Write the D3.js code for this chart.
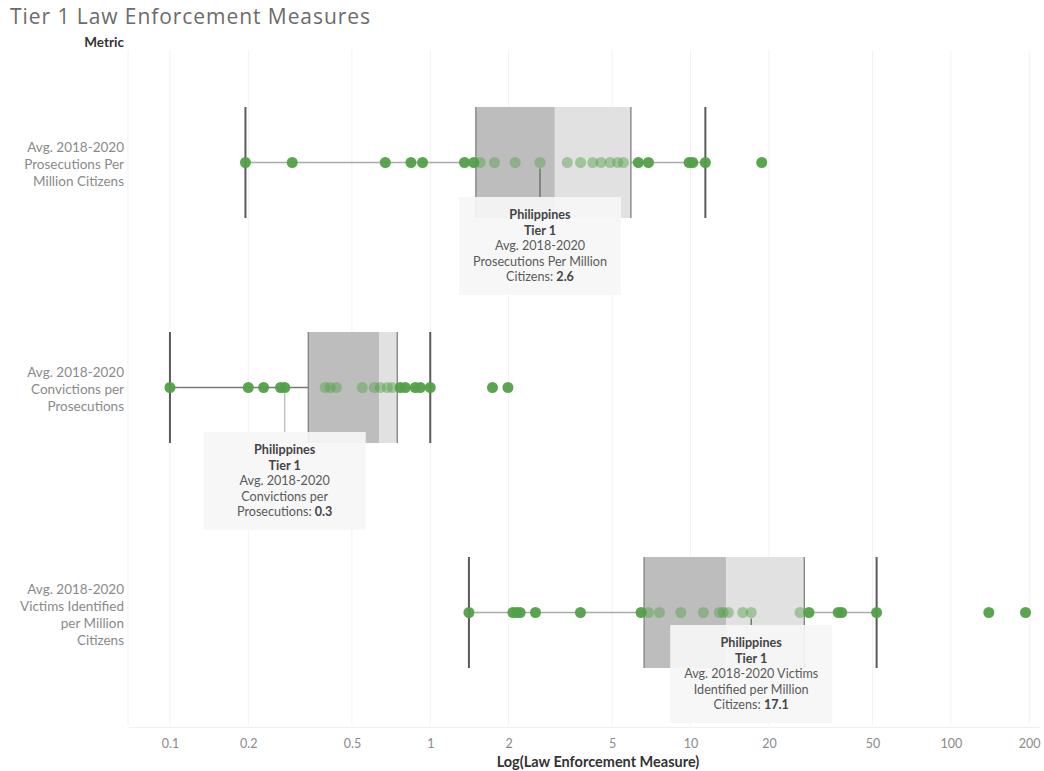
<!DOCTYPE html>
<html>
<head>
<meta charset="utf-8">
<script src="https://cdn.jsdelivr.net/npm/d3@7"></script>
<style>
  html, body { margin: 0; padding: 0; background: #fff; }
  svg { display: block; font-family: Lato, "Open Sans", sans-serif; }
</style>
</head>
<body>
<svg id="chart" width="1044" height="771"></svg>
<script>
// Metrics shown as rows (label lines per row)
const metrics = ["prosecutions", "convictions", "victims"];
const metricLabels = [
  ["Avg. 2018-2020", "Prosecutions Per", "Million Citizens"],
  ["Avg. 2018-2020", "Convictions per", "Prosecutions"],
  ["Avg. 2018-2020", "Victims Identified", "per Million", "Citizens"]
];

// Country values per metric (Tier 1 countries)
const prosecutionsValues = [0.195, 0.295, 0.672, 0.843, 0.934, 1.354, 1.47, 1.555, 1.765, 2.12, 2.64,
  3.36, 3.78, 4.21, 4.53, 4.91, 5.25, 5.52, 6.30, 6.89, 9.87, 10.2, 11.4, 18.77];
const convictionsValues = [0.1, 0.2, 0.229, 0.266, 0.276, 0.395, 0.413, 0.436, 0.548, 0.61, 0.643,
  0.684, 0.715, 0.767, 0.802, 0.876, 0.916, 1.0, 1.734, 1.988];
const victimsValues = [1.408, 2.077, 2.152, 2.215, 2.537, 3.776, 6.456, 6.887, 7.592, 9.17, 11.2,
  12.9, 13.36, 13.97, 15.87, 17.1, 26.33, 28.5, 36.93, 38.06, 51.85, 139.9, 193.6];

// Box plot statistics per metric
const whiskerLow  = [0.195, 0.1, 1.408];
const quartile1   = [1.497, 0.34, 6.63];
const medians     = [3.01, 0.637, 13.7];
const quartile3   = [5.9, 0.747, 27.35];
const whiskerHigh = [11.4, 1.0, 51.85];

// Highlighted country
const highlightName = "Philippines";
const highlightTier = "Tier 1";
const highlightValues = [2.64, 0.276, 17.1];
const tooltipLines = [
  ["Avg. 2018-2020", "Prosecutions Per Million", "Citizens: "],
  ["Avg. 2018-2020", "Convictions per", "Prosecutions: "],
  ["Avg. 2018-2020 Victims", "Identified per Million", "Citizens: "]
];

// Axis ticks
const tickValues = [0.1, 0.2, 0.5, 1, 2, 5, 10, 20, 50, 100, 200];
const tickLabels = ["0.1", "0.2", "0.5", "1", "2", "5", "10", "20", "50", "100", "200"];

const seriesValues = [prosecutionsValues, convictionsValues, victimsValues];

const svg = d3.select("#chart");
const plotLeft = 128, plotRight = 1040, plotTop = 50, plotBottom = 725;

const x = d3.scaleLog().domain([0.069, 220]).range([plotLeft, plotRight]);
const y = d3.scaleBand().domain(metrics).range([plotTop, plotBottom]);
const boxHalf = 55.5;

// Title
svg.append("text")
  .attr("x", 10).attr("y", 24)
  .attr("font-family", "'Open Sans', sans-serif")
  .attr("font-size", 21).attr("fill", "#6b6b6b")
  .attr("textLength", 360).attr("lengthAdjust", "spacing")
  .text("Tier 1 Law Enforcement Measures");

svg.append("text")
  .attr("x", 124).attr("y", 47)
  .attr("text-anchor", "end")
  .attr("font-size", 13.5).attr("font-weight", 700).attr("fill", "#333")
  .text("Metric");

// Gridlines
const grid = svg.append("g");
grid.selectAll("line.g").data(tickValues).join("line")
  .attr("x1", d => x(d)).attr("x2", d => x(d))
  .attr("y1", plotTop).attr("y2", plotBottom)
  .attr("stroke", "#f2f2f2").attr("stroke-width", 1);
grid.append("line")
  .attr("x1", plotLeft).attr("x2", plotLeft)
  .attr("y1", plotTop).attr("y2", plotBottom)
  .attr("stroke", "#f0f0f0");

// Bottom axis
const xAxis = d3.axisBottom(x)
  .tickValues(tickValues)
  .tickFormat((d, i) => tickLabels[i])
  .tickSize(0).tickPadding(12);
const axisG = svg.append("g")
  .attr("transform", `translate(0,${plotBottom + 2})`)
  .call(xAxis);
axisG.select(".domain").attr("stroke", "#f0f0f0");
axisG.selectAll("text")
  .attr("font-family", "Lato, sans-serif")
  .attr("font-size", 12.5).attr("fill", "#8a8a8a");

svg.append("text")
  .attr("x", 598).attr("y", 767)
  .attr("text-anchor", "middle")
  .attr("font-size", 14.5).attr("font-weight", 700).attr("fill", "#333")
  .text("Log(Law Enforcement Measure)");

// Row labels
metrics.forEach((m, i) => {
  const lines = metricLabels[i];
  const cy = y(m) + y.bandwidth() / 2;
  const lh = 17;
  const startY = cy - (lines.length - 1) * lh / 2 + 6.5;
  svg.append("text")
    .attr("text-anchor", "end")
    .attr("font-size", 13.5).attr("fill", "#8a8a8a")
    .selectAll("tspan").data(lines).join("tspan")
    .attr("x", 124).attr("y", (d, j) => startY + j * lh)
    .text(d => d);
});

// Box plots
metrics.forEach((m, i) => {
  const cy = y(m) + y.bandwidth() / 2;
  const g = svg.append("g");
  // whisker connector
  g.append("line")
    .attr("x1", x(whiskerLow[i])).attr("x2", x(quartile1[i]))
    .attr("y1", cy).attr("y2", cy)
    .attr("stroke", i === 1 ? "#777" : "#aaa").attr("stroke-width", 1.5);
  g.append("line")
    .attr("x1", x(quartile3[i])).attr("x2", x(whiskerHigh[i]))
    .attr("y1", cy).attr("y2", cy)
    .attr("stroke", i === 1 ? "#777" : "#aaa").attr("stroke-width", 1.5);
  // box halves
  g.append("rect")
    .attr("x", x(quartile1[i])).attr("y", cy - boxHalf)
    .attr("width", x(medians[i]) - x(quartile1[i])).attr("height", boxHalf * 2)
    .attr("fill", "#bdbdbd");
  g.append("rect")
    .attr("x", x(medians[i])).attr("y", cy - boxHalf)
    .attr("width", x(quartile3[i]) - x(medians[i])).attr("height", boxHalf * 2)
    .attr("fill", "#e1e1e1");
  // box edges
  [quartile1[i], quartile3[i]].forEach(v => {
    g.append("line")
      .attr("x1", x(v)).attr("x2", x(v))
      .attr("y1", cy - boxHalf).attr("y2", cy + boxHalf)
      .attr("stroke", "#808080").attr("stroke-width", 1.3);
  });
  // whisker caps
  [whiskerLow[i], whiskerHigh[i]].forEach(v => {
    g.append("line")
      .attr("x1", x(v)).attr("x2", x(v))
      .attr("y1", cy - boxHalf).attr("y2", cy + boxHalf)
      .attr("stroke", "#5a5a5a").attr("stroke-width", 2);
  });
  // points
  g.selectAll("circle").data(seriesValues[i]).join("circle")
    .attr("cx", d => x(d)).attr("cy", cy).attr("r", 5.5)
    .attr("fill", "#52a048")
    .attr("opacity", d => (d > quartile1[i] && d < quartile3[i]) ? 0.45 : 0.95);
});

// Highlight annotations
const tipLayout = [
  { top: 197, lead: "#666" },
  { top: 432, lead: "#bbb" },
  { top: 625, lead: "#666" }
];
const fmt = d3.format(".1f");
metrics.forEach((m, i) => {
  const cy = y(m) + y.bandwidth() / 2;
  const cx = x(highlightValues[i]);
  const t = tipLayout[i];
  const w = 162, h = 98;
  const g = svg.append("g");
  g.append("line")
    .attr("x1", cx).attr("x2", cx)
    .attr("y1", cy + 6).attr("y2", t.top)
    .attr("stroke", t.lead).attr("stroke-width", 1.3);
  g.append("rect")
    .attr("x", cx - w / 2).attr("y", t.top)
    .attr("width", w).attr("height", h)
    .attr("fill", "#f6f6f6").attr("fill-opacity", 0.92);
  const txt = g.append("text")
    .attr("text-anchor", "middle")
    .attr("font-size", 12.6).attr("fill", "#555");
  const lines = [
    { t: highlightName, bold: true },
    { t: highlightTier, bold: true },
    { t: tooltipLines[i][0] },
    { t: tooltipLines[i][1] },
    { t: tooltipLines[i][2], val: fmt(highlightValues[i]) }
  ];
  lines.forEach((ln, j) => {
    txt.append("tspan")
      .attr("x", cx).attr("y", t.top + 22 + j * 15.6)
      .attr("font-weight", ln.bold ? 700 : 400)
      .attr("fill", ln.bold ? "#444" : "#5a5a5a")
      .text(ln.t);
    if (ln.val) {
      txt.append("tspan").attr("font-weight", 700).attr("fill", "#444").text(ln.val);
    }
  });
});
</script>
</body>
</html>
